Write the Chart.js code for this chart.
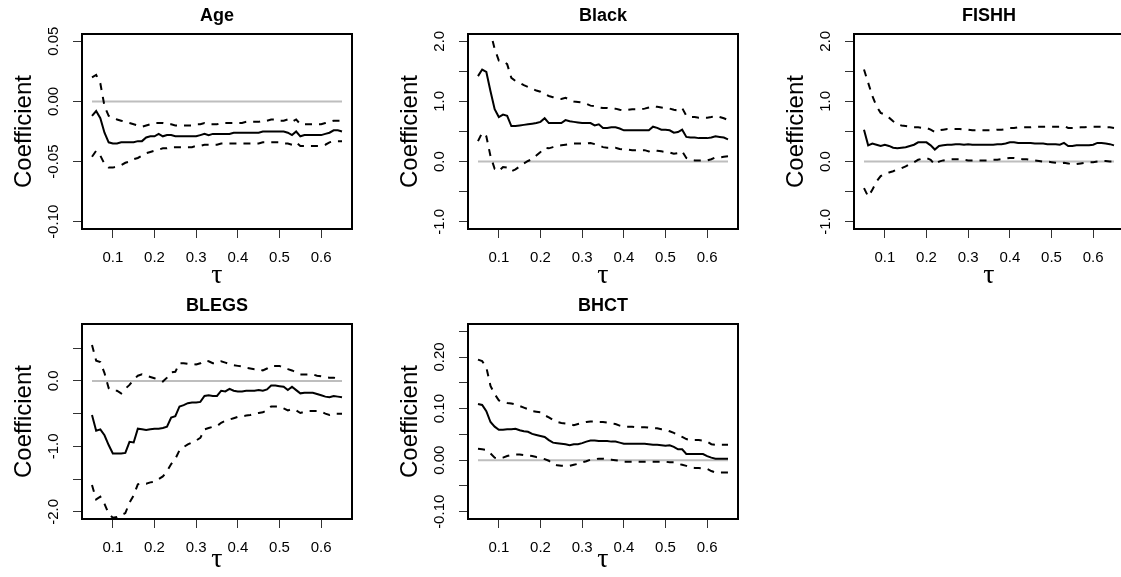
<!DOCTYPE html>
<html>
<head>
<meta charset="utf-8">
<script src="https://cdn.jsdelivr.net/npm/chart.js@4.4.1/dist/chart.umd.min.js"></script>
<style>
  html, body { margin: 0; padding: 0; background: #fff; width: 1121px; height: 577px; overflow: hidden; position: relative; }
  canvas { position: absolute; }
</style>
</head>
<body>
<canvas id="age" width="370" height="290" style="left:0px;top:0px"></canvas>
<canvas id="black" width="370" height="290" style="left:386px;top:0px"></canvas>
<canvas id="fishh" width="370" height="290" style="left:772px;top:0px"></canvas>
<canvas id="blegs" width="370" height="290" style="left:0px;top:290px"></canvas>
<canvas id="bhct" width="370" height="290" style="left:386px;top:290px"></canvas>
<script>
// quantile grid
const tau = [0.05, 0.06, 0.07, 0.08, 0.09, 0.10, 0.11, 0.12, 0.13, 0.14, 0.15, 0.16, 0.17, 0.18, 0.19, 0.20,
  0.21, 0.22, 0.23, 0.24, 0.25, 0.26, 0.27, 0.28, 0.29, 0.30, 0.31, 0.32, 0.33, 0.34, 0.35, 0.36, 0.37, 0.38,
  0.39, 0.40, 0.41, 0.42, 0.43, 0.44, 0.45, 0.46, 0.47, 0.48, 0.49, 0.50, 0.51, 0.52, 0.53, 0.54, 0.55, 0.56,
  0.57, 0.58, 0.59, 0.60, 0.61, 0.62, 0.63, 0.64, 0.65];

const xTicks = [0.1, 0.2, 0.3, 0.4, 0.5, 0.6];
const xTickLabels = ['0.1', '0.2', '0.3', '0.4', '0.5', '0.6'];
const zeroRef = 0;

// Age
const ageCoef = [-0.012, -0.008, -0.014, -0.026, -0.034, -0.035, -0.035, -0.034, -0.034, -0.034, -0.034, -0.033, -0.033, -0.030, -0.029, -0.029,
  -0.027, -0.029, -0.028, -0.028, -0.029, -0.029, -0.029, -0.029, -0.029, -0.029, -0.028, -0.027, -0.028, -0.027, -0.027, -0.027, -0.027, -0.027,
  -0.026, -0.026, -0.026, -0.026, -0.026, -0.026, -0.026, -0.025, -0.025, -0.025, -0.025, -0.025, -0.025, -0.026, -0.028, -0.025, -0.029, -0.028,
  -0.028, -0.028, -0.028, -0.028, -0.027, -0.026, -0.024, -0.024, -0.025];
const ageUpper = [0.020, 0.022, 0.015, -0.004, -0.012, -0.014, -0.015, -0.016, -0.017, -0.018, -0.019, -0.020, -0.021, -0.020, -0.019, -0.018,
  -0.018, -0.018, -0.019, -0.019, -0.020, -0.020, -0.020, -0.020, -0.020, -0.019, -0.019, -0.018, -0.019, -0.019, -0.019, -0.018, -0.018, -0.018,
  -0.018, -0.018, -0.018, -0.017, -0.017, -0.017, -0.017, -0.016, -0.016, -0.015, -0.015, -0.016, -0.016, -0.015, -0.017, -0.015, -0.019, -0.019,
  -0.019, -0.019, -0.019, -0.019, -0.018, -0.017, -0.016, -0.016, -0.016];
const ageLower = [-0.046, -0.041, -0.045, -0.052, -0.055, -0.055, -0.054, -0.053, -0.051, -0.050, -0.048, -0.047, -0.045, -0.043, -0.042, -0.041,
  -0.040, -0.039, -0.039, -0.038, -0.038, -0.038, -0.038, -0.038, -0.038, -0.037, -0.037, -0.036, -0.036, -0.036, -0.036, -0.035, -0.035, -0.035,
  -0.035, -0.035, -0.035, -0.035, -0.035, -0.035, -0.035, -0.034, -0.034, -0.034, -0.034, -0.034, -0.035, -0.035, -0.036, -0.034, -0.037, -0.037,
  -0.037, -0.037, -0.037, -0.037, -0.036, -0.034, -0.033, -0.033, -0.033];
const ageYTicks = [-0.10, -0.05, 0.00, 0.05];
const ageYLabels = ['-0.10', '-0.05', '0.00', '0.05'];

// Black
const blackCoef = [1.42, 1.53, 1.49, 1.17, 0.87, 0.74, 0.78, 0.76, 0.59, 0.59, 0.60, 0.61, 0.62, 0.63, 0.64, 0.66,
  0.72, 0.64, 0.64, 0.64, 0.64, 0.69, 0.67, 0.66, 0.65, 0.64, 0.64, 0.64, 0.60, 0.62, 0.56, 0.56, 0.57, 0.57,
  0.55, 0.52, 0.52, 0.52, 0.52, 0.52, 0.52, 0.52, 0.58, 0.56, 0.53, 0.53, 0.52, 0.48, 0.49, 0.53, 0.41, 0.40,
  0.40, 0.39, 0.39, 0.39, 0.40, 0.42, 0.41, 0.40, 0.37];
const blackUpper = [2.90, 2.60, 2.35, 2.15, 1.87, 1.68, 1.67, 1.62, 1.39, 1.34, 1.31, 1.27, 1.24, 1.21, 1.18, 1.16,
  1.12, 1.09, 1.07, 1.05, 1.04, 1.06, 1.03, 1.00, 0.99, 0.98, 0.96, 0.93, 0.92, 0.90, 0.89, 0.89, 0.88, 0.88,
  0.86, 0.85, 0.86, 0.87, 0.87, 0.87, 0.88, 0.90, 0.92, 0.91, 0.90, 0.89, 0.88, 0.86, 0.85, 0.89, 0.76, 0.74,
  0.74, 0.73, 0.73, 0.73, 0.74, 0.76, 0.74, 0.72, 0.69];
const blackLower = [0.34, 0.48, 0.42, 0.09, -0.12, -0.16, -0.09, -0.10, -0.16, -0.13, -0.08, -0.03, 0.01, 0.04, 0.10, 0.16,
  0.23, 0.22, 0.24, 0.26, 0.27, 0.28, 0.29, 0.30, 0.30, 0.30, 0.30, 0.31, 0.29, 0.27, 0.24, 0.23, 0.23, 0.23,
  0.21, 0.20, 0.20, 0.19, 0.19, 0.19, 0.19, 0.17, 0.19, 0.18, 0.17, 0.16, 0.15, 0.13, 0.14, 0.17, 0.06, 0.03,
  0.02, 0.02, 0.02, 0.02, 0.04, 0.07, 0.07, 0.08, 0.09];
const blackYTicks = [-1.0, -0.5, 0.0, 0.5, 1.0, 1.5, 2.0];
const blackYLabels = ['-1.0', '', '0.0', '', '1.0', '', '2.0'];

// FISHH
const fishhCoef = [0.53, 0.27, 0.30, 0.28, 0.26, 0.28, 0.26, 0.23, 0.22, 0.23, 0.24, 0.26, 0.28, 0.32, 0.32, 0.32,
  0.27, 0.20, 0.26, 0.27, 0.28, 0.28, 0.29, 0.29, 0.28, 0.29, 0.28, 0.28, 0.28, 0.28, 0.28, 0.28, 0.29, 0.29,
  0.30, 0.32, 0.32, 0.31, 0.31, 0.31, 0.31, 0.30, 0.30, 0.30, 0.29, 0.29, 0.29, 0.28, 0.31, 0.26, 0.26, 0.27,
  0.27, 0.27, 0.27, 0.28, 0.31, 0.31, 0.30, 0.29, 0.27];
const fishhUpper = [1.53, 1.31, 1.09, 0.92, 0.81, 0.78, 0.73, 0.67, 0.62, 0.60, 0.59, 0.58, 0.57, 0.57, 0.56, 0.56,
  0.53, 0.49, 0.52, 0.53, 0.54, 0.54, 0.54, 0.54, 0.53, 0.53, 0.52, 0.52, 0.52, 0.52, 0.52, 0.52, 0.53, 0.53,
  0.54, 0.56, 0.56, 0.57, 0.57, 0.57, 0.57, 0.58, 0.58, 0.58, 0.58, 0.58, 0.58, 0.58, 0.59, 0.56, 0.56, 0.56,
  0.57, 0.57, 0.58, 0.58, 0.58, 0.58, 0.57, 0.57, 0.56];
const fishhLower = [-0.44, -0.58, -0.47, -0.33, -0.24, -0.20, -0.18, -0.16, -0.13, -0.11, -0.08, -0.04, -0.01, 0.03, 0.05, 0.06,
  0.03, -0.05, 0.00, 0.02, 0.03, 0.04, 0.04, 0.04, 0.03, 0.02, 0.02, 0.02, 0.02, 0.02, 0.02, 0.03, 0.03, 0.04,
  0.05, 0.06, 0.06, 0.05, 0.04, 0.04, 0.03, 0.02, 0.01, 0.00, 0.00, -0.01, -0.02, -0.03, -0.02, -0.03, -0.05, -0.04,
  -0.03, -0.02, -0.01, -0.01, 0.00, 0.01, 0.01, 0.00, 0.00];
const fishhYTicks = [-1.0, -0.5, 0.0, 0.5, 1.0, 1.5, 2.0];
const fishhYLabels = ['-1.0', '', '0.0', '', '1.0', '', '2.0'];

// BLEGS
const blegsCoef = [-0.52, -0.76, -0.74, -0.83, -0.98, -1.11, -1.11, -1.11, -1.10, -0.93, -0.94, -0.73, -0.74, -0.75, -0.74, -0.73,
  -0.73, -0.72, -0.70, -0.56, -0.54, -0.39, -0.37, -0.34, -0.33, -0.33, -0.32, -0.23, -0.22, -0.23, -0.23, -0.15, -0.16, -0.12,
  -0.15, -0.16, -0.16, -0.15, -0.15, -0.15, -0.14, -0.15, -0.13, -0.07, -0.07, -0.08, -0.09, -0.14, -0.09, -0.14, -0.19, -0.18,
  -0.18, -0.18, -0.20, -0.22, -0.24, -0.25, -0.23, -0.24, -0.25];
const blegsUpper = [0.55, 0.31, 0.29, 0.12, -0.11, -0.15, -0.15, -0.19, -0.12, -0.06, 0.02, 0.08, 0.10, 0.08, 0.06, 0.04,
  0.02, -0.01, 0.05, 0.13, 0.14, 0.27, 0.27, 0.26, 0.26, 0.25, 0.27, 0.31, 0.30, 0.27, 0.27, 0.30, 0.28, 0.26,
  0.24, 0.23, 0.22, 0.20, 0.19, 0.18, 0.18, 0.16, 0.19, 0.23, 0.23, 0.23, 0.20, 0.18, 0.16, 0.13, 0.10, 0.10,
  0.10, 0.10, 0.08, 0.07, 0.06, 0.05, 0.05, 0.04, 0.04];
const blegsLower = [-1.59, -1.81, -1.77, -1.88, -2.03, -2.09, -2.08, -2.05, -2.02, -1.86, -1.75, -1.58, -1.56, -1.57, -1.55, -1.54,
  -1.50, -1.46, -1.38, -1.27, -1.19, -1.06, -1.01, -0.97, -0.94, -0.91, -0.87, -0.74, -0.72, -0.70, -0.69, -0.64, -0.61, -0.59,
  -0.57, -0.55, -0.54, -0.53, -0.52, -0.50, -0.49, -0.48, -0.45, -0.39, -0.39, -0.39, -0.42, -0.45, -0.43, -0.45, -0.49, -0.47,
  -0.46, -0.46, -0.46, -0.47, -0.50, -0.52, -0.50, -0.50, -0.50];
const blegsYTicks = [-2.0, -1.5, -1.0, -0.5, 0.0, 0.5];
const blegsYLabels = ['-2.0', '', '-1.0', '', '0.0', ''];

// BHCT
const bhctCoef = [0.109, 0.107, 0.095, 0.074, 0.065, 0.059, 0.059, 0.060, 0.060, 0.061, 0.058, 0.056, 0.055, 0.051, 0.049, 0.047,
  0.045, 0.039, 0.034, 0.033, 0.032, 0.031, 0.029, 0.031, 0.031, 0.033, 0.036, 0.038, 0.038, 0.037, 0.037, 0.037, 0.036, 0.036,
  0.034, 0.032, 0.032, 0.032, 0.032, 0.032, 0.032, 0.031, 0.030, 0.030, 0.029, 0.028, 0.029, 0.026, 0.021, 0.021, 0.012, 0.012,
  0.012, 0.012, 0.012, 0.008, 0.005, 0.003, 0.003, 0.003, 0.003];
const bhctUpper = [0.195, 0.192, 0.180, 0.144, 0.128, 0.116, 0.113, 0.111, 0.110, 0.108, 0.105, 0.102, 0.099, 0.095, 0.094, 0.093,
  0.087, 0.083, 0.078, 0.074, 0.072, 0.071, 0.070, 0.068, 0.070, 0.072, 0.074, 0.075, 0.075, 0.074, 0.074, 0.073, 0.071, 0.070,
  0.067, 0.065, 0.065, 0.065, 0.064, 0.064, 0.064, 0.063, 0.062, 0.062, 0.060, 0.059, 0.056, 0.053, 0.049, 0.045, 0.041, 0.039,
  0.039, 0.039, 0.038, 0.036, 0.031, 0.030, 0.030, 0.030, 0.030];
const bhctLower = [0.022, 0.021, 0.020, 0.013, 0.005, 0.003, 0.005, 0.008, 0.010, 0.011, 0.011, 0.010, 0.009, 0.008, 0.006, 0.005,
  0.002, -0.001, -0.008, -0.010, -0.011, -0.011, -0.011, -0.009, -0.007, -0.004, -0.002, 0.001, 0.002, 0.003, 0.003, 0.002, 0.001, 0.000,
  -0.001, -0.003, -0.003, -0.003, -0.003, -0.003, -0.003, -0.003, -0.003, -0.003, -0.003, -0.003, -0.004, -0.004, -0.007, -0.009, -0.011, -0.014,
  -0.015, -0.015, -0.016, -0.017, -0.021, -0.024, -0.024, -0.024, -0.024];
const bhctYTicks = [-0.10, -0.05, 0.00, 0.05, 0.10, 0.15, 0.20, 0.25];
const bhctYLabels = ['-0.10', '', '0.00', '', '0.10', '', '0.20', ''];

const FONT = '"Liberation Sans", Arial, Helvetica, sans-serif';
Chart.defaults.font.family = FONT;
Chart.defaults.color = '#000';

const measureCtx = document.createElement('canvas').getContext('2d');
measureCtx.font = '15px ' + FONT;

const toPoints = (vals) => tau.map((t, i) => ({ x: t, y: vals[i] }));

// R style box around the plot region
const boxPlugin = {
  id: 'rbox',
  afterDatasetsDraw(chart) {
    const a = chart.chartArea;
    const ctx = chart.ctx;
    ctx.save();
    ctx.strokeStyle = '#000';
    ctx.lineWidth = 2;
    ctx.strokeRect(a.left, a.top, a.right - a.left, a.bottom - a.top);
    ctx.restore();
  }
};

const makePanel = (id, title, yMin, yMax, yTicks, yLabels, coef, upper, lower, xTitlePad) => {
  const widest = Math.max(...yLabels.map(l => measureCtx.measureText(l).width));
  const yPad = 28.5 - 9 - widest / 2;

  new Chart(document.getElementById(id), {
    type: 'line',
    data: {
      datasets: [
        { data: toPoints(coef), borderColor: '#000', borderWidth: 2 },
        { data: toPoints(upper), borderColor: '#000', borderWidth: 2, borderDash: [7, 7] },
        { data: toPoints(lower), borderColor: '#000', borderWidth: 2, borderDash: [7, 7] },
        { data: [{ x: tau[0], y: zeroRef }, { x: tau[tau.length - 1], y: zeroRef }], borderColor: '#bebebe', borderWidth: 2 }
      ]
    },
    options: {
      responsive: false,
      animation: false,
      devicePixelRatio: 1,
      layout: { padding: { left: 0, right: 18, top: 0, bottom: 0 } },
      elements: { point: { radius: 0 }, line: { tension: 0 } },
      plugins: {
        legend: { display: false },
        tooltip: { enabled: false },
        title: {
          display: true,
          text: title,
          fullSize: false,
          color: '#000',
          font: { size: 18, weight: 'bold', lineHeight: 1.2 },
          padding: { top: 5, bottom: 7.4 }
        }
      },
      scales: {
        x: {
          type: 'linear',
          min: 0.026,
          max: 0.674,
          afterBuildTicks: s => { s.ticks = xTicks.map(v => ({ value: v })); },
          afterFit: s => { s.height = 61; },
          ticks: {
            autoSkip: false,
            maxRotation: 0,
            padding: 10.5,
            color: '#000',
            font: { size: 15 },
            callback: (v, i) => xTickLabels[i]
          },
          grid: { drawOnChartArea: false, drawTicks: true, tickLength: 9, tickColor: '#333', tickWidth: 1 },
          border: { display: false },
          title: {
            display: true,
            text: 'τ',
            color: '#000',
            font: { size: 28, family: '"Liberation Serif", "DejaVu Serif", serif', lineHeight: 1.0 },
            padding: { top: 0, bottom: xTitlePad }
          }
        },
        y: {
          type: 'linear',
          min: yMin,
          max: yMax,
          afterBuildTicks: s => { s.ticks = yTicks.map(v => ({ value: v })); },
          afterFit: s => { s.width = 82; },
          ticks: {
            autoSkip: false,
            minRotation: 90,
            maxRotation: 90,
            crossAlign: 'center',
            padding: yPad,
            color: '#000',
            font: { size: 15 },
            callback: (v, i) => yLabels[i]
          },
          grid: { drawOnChartArea: false, drawTicks: true, tickLength: 9, tickColor: '#333', tickWidth: 1 },
          border: { display: false },
          title: {
            display: true,
            text: 'Coefficient',
            color: '#000',
            font: { size: 24, lineHeight: 1.2 },
            padding: { top: 10, bottom: 0 }
          }
        }
      }
    },
    plugins: [boxPlugin]
  });
};

makePanel('age', 'Age', -0.106, 0.056, ageYTicks, ageYLabels, ageCoef, ageUpper, ageLower, 0.5);
makePanel('black', 'Black', -1.12, 2.12, blackYTicks, blackYLabels, blackCoef, blackUpper, blackLower, 0.5);
makePanel('fishh', 'FISHH', -1.12, 2.12, fishhYTicks, fishhYLabels, fishhCoef, fishhUpper, fishhLower, 0.5);
makePanel('blegs', 'BLEGS', -2.11, 0.87, blegsYTicks, blegsYLabels, blegsCoef, blegsUpper, blegsLower, 6);
makePanel('bhct', 'BHCT', -0.114, 0.264, bhctYTicks, bhctYLabels, bhctCoef, bhctUpper, bhctLower, 6);
</script>
</body>
</html>
